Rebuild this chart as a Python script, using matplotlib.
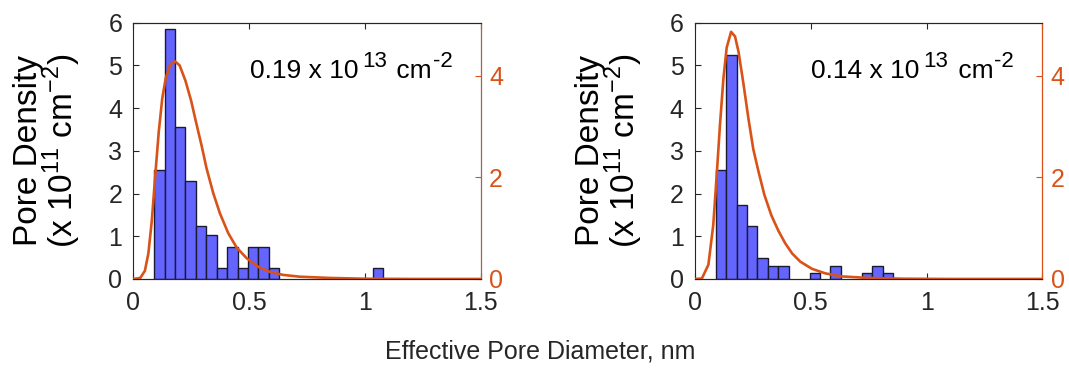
"""
plot.py
───────
Pore size histograms (left axis) with fitted distribution curves (right axis)
for two membranes, side by side.
"""

import matplotlib
matplotlib.use("Agg")
import matplotlib.pyplot as plt

# ── Data ──────────────────────────────────────────────────────
BIN_START = 0.09
BIN_W     = 0.045

# histogram heights per bin (x 10^11 cm^-2), bin k spans BIN_START + k*BIN_W
left_heights  = [2.55, 5.85, 3.55, 2.30, 1.25, 1.02, 0.25, 0.76, 0.25, 0.76, 0.76, 0.25,
                 0, 0, 0, 0, 0, 0, 0, 0, 0, 0.25]
right_heights = [2.54, 5.25, 1.74, 1.25, 0.48, 0.31, 0.31, 0, 0, 0.15, 0, 0.31,
                 0, 0, 0.15, 0.31, 0.15]

# fitted curves (right axis units)
left_curve_x = [0.00, 0.03, 0.05, 0.065, 0.08, 0.095, 0.11, 0.125, 0.14, 0.16, 0.18, 0.20,
                0.225, 0.25, 0.27, 0.295, 0.316, 0.345, 0.374, 0.41, 0.446, 0.489, 0.539,
                0.589, 0.647, 0.718, 0.85, 1.0, 1.2, 1.5]
left_curve_y = [0.00, 0.02, 0.16, 0.50, 1.15, 2.05, 2.90, 3.55, 3.95, 4.22, 4.28, 4.20,
                3.90, 3.50, 3.10, 2.62, 2.18, 1.69, 1.29, 0.90, 0.62, 0.41, 0.24,
                0.14, 0.08, 0.045, 0.02, 0.005, 0.0, 0.0]

right_curve_x = [0.00, 0.03, 0.058, 0.079, 0.094, 0.108, 0.123, 0.137, 0.156, 0.173, 0.188,
                 0.209, 0.231, 0.252, 0.275, 0.30, 0.33, 0.36, 0.39, 0.42, 0.455, 0.505,
                 0.563, 0.635, 0.75, 0.9, 1.1, 1.5]
right_curve_y = [0.00, 0.01, 0.28, 1.06, 2.05, 3.03, 3.95, 4.55, 4.86, 4.77, 4.47,
                 3.85, 3.15, 2.55, 2.10, 1.65, 1.25, 0.95, 0.70, 0.50, 0.34, 0.20,
                 0.11, 0.05, 0.02, 0.005, 0.0, 0.0]

densities = ["0.19", "0.14"]

x_ticks  = [0, 0.5, 1, 1.5]
x_labels = ["0", "0.5", "1", "1.5"]
yl_ticks = [0, 1, 2, 3, 4, 5, 6]
yr_ticks = [0, 2, 4]

# ── Style ─────────────────────────────────────────────────────
ORANGE = "#D95319"
BLUE   = "#6464FF"
DARK   = "#262626"

plt.rcParams["font.family"] = ["Liberation Sans", "DejaVu Sans"]
plt.rcParams["mathtext.fontset"] = "custom"
plt.rcParams["mathtext.rm"] = "Liberation Sans"

fig = plt.figure(figsize=(10.69, 3.70), dpi=100)

panels = [
    (0.1247, left_heights,  left_curve_x,  left_curve_y,  densities[0]),
    (0.6501, right_heights, right_curve_x, right_curve_y, densities[1]),
]


def density_label(ax, dens):
    """'0.19 x 10^13 cm^-2' with big MATLAB-style superscripts."""
    base = ax.text(0.335, 0.765, dens + " x 10", transform=ax.transAxes,
                   fontsize=19, va="bottom", ha="left", color="black")
    sup1 = ax.annotate("13", xy=(1, 0), xycoords=base, xytext=(4, 11),
                       textcoords="offset pixels", fontsize=16,
                       va="bottom", ha="left")
    unit = ax.annotate(" cm", xy=(1, 0), xycoords=(sup1, base), xytext=(2, 0),
                       textcoords="offset pixels", fontsize=19,
                       va="bottom", ha="left")
    ax.annotate("-2", xy=(1, 0), xycoords=(unit, base), xytext=(1, 11),
                textcoords="offset pixels", fontsize=16,
                va="bottom", ha="left")


for left, heights, cx, cy, dens in panels:
    ax = fig.add_axes([left, 0.246, 0.3250, 0.6927])

    # histogram bars (skip empty bins)
    xs = [BIN_START + k * BIN_W for k, h in enumerate(heights) if h > 0]
    hs = [h for h in heights if h > 0]
    ax.bar(xs, hs, width=BIN_W, align="edge", color=BLUE,
           edgecolor="#1a1a33", linewidth=1.0, zorder=2)

    ax.set_xlim(0, 1.5)
    ax.set_ylim(0, 6)
    ax.set_xticks(x_ticks)
    ax.set_xticklabels(x_labels)
    ax.set_yticks(yl_ticks)
    ax.tick_params(axis="both", direction="in", labelsize=18, colors=DARK,
                   length=4, width=0.8)
    ax.tick_params(axis="x", top=True, pad=9)
    ax.tick_params(axis="y", pad=8)
    for s in ax.spines.values():
        s.set_color(DARK)
        s.set_linewidth(0.8)

    ax.set_ylabel("Pore Density\n(x 10$^{\\mathregular{11}}$ cm$^{\\mathregular{-2}}$)",
                  fontsize=24, linespacing=0.92, va="center", ha="center")
    ax.yaxis.set_label_coords(-0.245, 0.5)

    density_label(ax, dens)

    # fitted curve on the right axis
    ax2 = ax.twinx()
    ax2.plot(cx, cy, color=ORANGE, linewidth=1.9, solid_capstyle="round")
    ax2.set_ylim(0, 5.04)
    ax2.set_yticks(yr_ticks)
    ax2.tick_params(axis="y", direction="in", labelsize=18, colors=ORANGE,
                    length=4, width=0.8, pad=6)
    ax2.spines["right"].set_color(ORANGE)
    ax2.spines["right"].set_linewidth(0.8)
    ax2.spines["left"].set_visible(False)
    ax2.spines["top"].set_color(DARK)
    ax2.spines["bottom"].set_color(DARK)

fig.text(0.505, 0.05, "Effective Pore Diameter, nm", fontsize=18,
         ha="center", va="center", color=DARK)

fig.savefig("out.png", dpi=100)
